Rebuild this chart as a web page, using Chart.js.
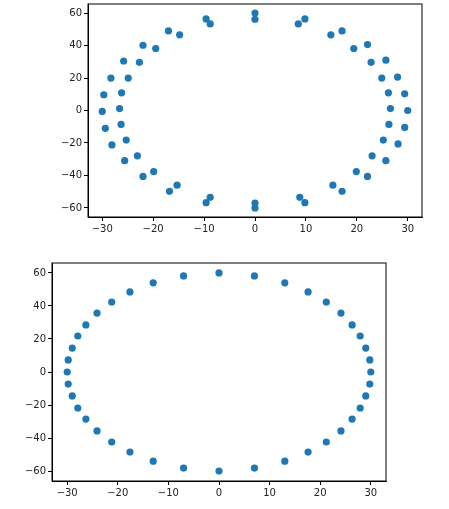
<!DOCTYPE html><html><head><script src="https://cdn.jsdelivr.net/npm/chart.js@4"></script>
<style>body{margin:0;background:#fff}canvas{position:absolute;left:0}</style></head><body>
<div style="position:absolute;left:0;top:0;width:449px;height:240px"><canvas id="c1"></canvas></div>
<div style="position:absolute;left:0;top:240px;width:449px;height:269px"><canvas id="c2"></canvas></div>
<script>
const topX=[0,0,-9.6,-8.8,8.5,9.8,-17,-14.8,14.9,17.1,-22,-19.5,19.4,22.1,-25.8,-22.7,22.8,25.7,-28.3,-24.9,24.9,28,-29.7,-26.2,26.2,29.4,-30,-26.6,26.6,30,-29.4,-26.3,26.3,29.4,-28.1,-25.3,25.2,28.1,-25.6,-23.1,23,25.7,-22,-19.9,19.9,22.1,-16.8,-15.3,15.3,17.1,-9.6,-8.8,8.8,9.8,0,0];
const topY=[60,56.2,56.4,53.3,53.3,56.4,49,46.6,46.6,49,40.2,38.2,38.2,40.6,30.5,29.7,29.7,31,20,20,20,20.6,9.7,10.9,10.9,10.3,-0.6,1.2,1.2,0,-11,-8.6,-8.6,-10.4,-21.2,-18.2,-18.2,-20.6,-30.9,-27.9,-27.9,-30.9,-40.6,-37.6,-37.6,-40.6,-49.8,-46,-46,-49.8,-56.8,-53.5,-53.5,-56.8,-57,-60];
const botX=[0,7,13,17.6,21.2,24.1,26.3,27.9,29,29.8,30,29.8,29,27.9,26.3,24.1,21.2,17.6,13,7,0,-7,-13,-17.6,-21.2,-24.1,-26.3,-27.9,-29,-29.8,-30,-29.8,-29,-27.9,-26.3,-24.1,-21.2,-17.6,-13,-7];
const botY=[60,58.2,54,48.5,42.4,35.7,28.5,21.8,14.5,7.3,0,-7.3,-14.5,-21.8,-28.5,-35.7,-42.4,-48.5,-54,-58.2,-60,-58.2,-54,-48.5,-42.4,-35.7,-28.5,-21.8,-14.5,-7.3,0,7.3,14.5,21.8,28.5,35.7,42.4,48.5,54,58.2];
const xTicks=[-30,-20,-10,0,10,20,30];
const yTicks=[-60,-40,-20,0,20,40,60];
function make(id,xs,ys,yw,xh,pad,xr,yr){
  const data=xs.map((x,i)=>({x:x,y:ys[i]}));
  const ax=(ticks,lim,fit)=>({type:'linear',min:-lim,max:lim,
    afterBuildTicks:s=>{s.ticks=ticks.map(v=>({value:v}));},afterFit:fit,
    grid:{drawOnChartArea:false,tickLength:4,color:'#000'},border:{color:'#000',width:1},
    ticks:{color:'#222',font:{family:'DejaVu Sans',size:10},padding:2,maxRotation:0,callback:v=>String(v).replace('-','\u2212')}});
  new Chart(document.getElementById(id),{type:'scatter',
    data:{datasets:[{data:data,backgroundColor:'#1f77b4',borderWidth:0,pointRadius:3.6}]},
    options:{responsive:true,maintainAspectRatio:false,animation:false,
      layout:{padding:pad},
      plugins:{legend:{display:false},tooltip:{enabled:false}},
      scales:{x:ax(xTicks,xr,s=>{s.height=xh;s.paddingTop=0;}),y:ax(yTicks,yr,s=>{s.width=yw;s.paddingTop=0;s.paddingBottom=0;})}},
    plugins:[{id:'frame',afterDraw(c){const a=c.chartArea,g=c.ctx;g.save();g.strokeStyle='#000';g.lineWidth=1;g.strokeRect(a.left,a.top,a.right-a.left,a.bottom-a.top);g.restore();}}]});
}
make('c1',topX,topY,88,23,{left:0,right:27,top:1,bottom:0},32.8,65.6);
make('c2',botX,botY,52,28,{left:0,right:63,top:23,bottom:0},33,66);
</script></body></html>
